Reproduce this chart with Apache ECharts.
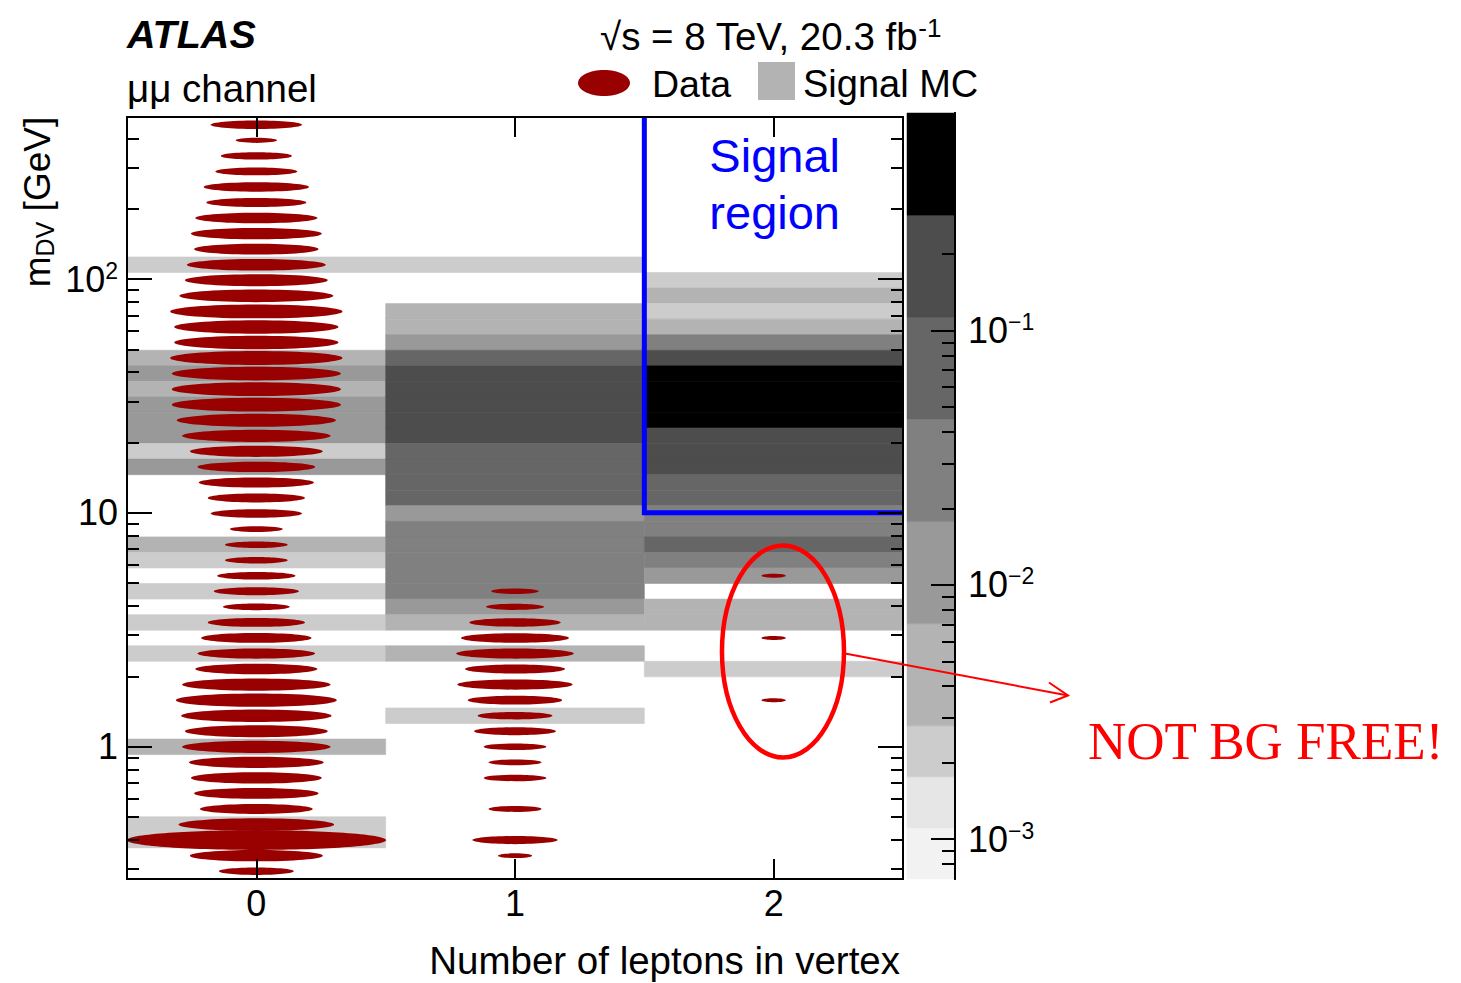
<!DOCTYPE html>
<html>
<head>
<meta charset="utf-8">
<script src="https://cdn.jsdelivr.net/npm/echarts@6/dist/echarts.min.js"></script>
<style>
html,body{margin:0;padding:0;background:#fff;}
#chart{width:1461px;height:983px;}
</style>
</head>
<body>
<div id="chart"></div>
<script>
// ---------------- DATA ----------------
// x categories: number of leptons in vertex
const leptonCategories = [0, 1, 2];
// y axis: m_DV [GeV], log scale, 49 equal log-width bins (bin 0 = highest mass)
const mMinGeV = 0.2716;
const mMaxGeV = 493.4;
const nMassBins = 49;
const yMajorTicks = [1, 10, 100];
const yMinorTicks = [0.3,0.4,0.5,0.6,0.7,0.8,0.9,2,3,4,5,6,7,8,9,20,30,40,50,60,70,80,90,200,300,400];
// colour scale (signal MC), log scale
const zMajorTicks = [0.001, 0.01, 0.1];
const zMinorTicks = [0.0008,0.0009,0.002,0.003,0.004,0.005,0.006,0.007,0.008,0.009,0.02,0.03,0.04,0.05,0.06,0.07,0.08,0.09,0.2,0.3,0.4,0.5,0.6,0.7];
const contourLevels = [0.000697, 0.001107, 0.001758, 0.00279, 0.00703, 0.01774, 0.0448, 0.1127, 0.2844, 0.718];
const contourColors = ['#f2f2f2','#e6e6e6','#cccccc','#b3b3b3','#999999','#808080','#666666','#4d4d4d','#000000'];

// Data counts per mass bin (dense, bin 0 = top)
const dataCounts0 = [15,3,9,12,20,18,27,31,28,35,37,43,54,49,49,54,52,52,52,46,40,32,25,24,17,15,5,7,7,11,13,8,17,22,25,27,40,47,41,37,40,33,31,28,23,44,123,32,10];
const dataCounts1 = [0,0,0,0,0,0,0,0,0,0,0,0,0,0,0,0,0,0,0,0,0,0,0,0,0,0,0,0,0,0,4,6,15,21,25,18,24,16,10,12,7,5,7,0,5,0,13,2,0];
const dataCounts2 = [0,0,0,0,0,0,0,0,0,0,0,0,0,0,0,0,0,0,0,0,0,0,0,0,0,0,0,0,0,1,0,0,0,1,0,0,0,1,0,0,0,0,0,0,0,0,0,0,0];

// Signal MC fraction per [mass bin, value] (sparse)
const signalMC0 = [[9,0.0022],[15,0.0045],[16,0.011],[17,0.0048],[18,0.012],[19,0.011],[20,0.0105],[21,0.0021],[22,0.0095],[27,0.0042],[28,0.0020],[30,0.0023],[32,0.0021],[34,0.0022],[40,0.0040],[45,0.0021],[46,0.0023]];
const signalMC1 = [[9,0.0022],[12,0.0050],[13,0.0046],[14,0.012],[15,0.068],[16,0.15],[17,0.19],[18,0.20],[19,0.17],[20,0.14],[21,0.075],[22,0.07],[23,0.065],[24,0.06],[25,0.013],[26,0.030],[27,0.032],[28,0.028],[29,0.026],[30,0.022],[31,0.011],[32,0.0045],[34,0.0040],[38,0.0021]];
const signalMC2 = [[10,0.0022],[11,0.0042],[12,0.0021],[13,0.0045],[14,0.030],[15,0.16],[16,0.45],[17,0.52],[18,0.48],[19,0.40],[20,0.20],[21,0.17],[22,0.15],[23,0.08],[24,0.07],[25,0.035],[26,0.030],[27,0.060],[28,0.028],[29,0.012],[31,0.0050],[32,0.0044],[35,0.0022]];

// Signal region: nLeptons >= 2 and m_DV > 10 GeV
const signalRegionMinLeptons = 1.5;
const signalRegionMinMassGeV = 10;
const signalRegionLabelAt = [2.0, 256];
// Annotation target (circled data entries)
const annotationTarget = [2.036, 2.553];

// ---------------- CHART ----------------
const FONT = '"Liberation Sans", Arial, Helvetica, sans-serif';
const lg = v => Math.log10(v);
const LOG_MIN = lg(mMinGeV), LOG_MAX = lg(mMaxGeV);
const dLog = (LOG_MAX - LOG_MIN) / nMassBins;
const binHi = i => LOG_MAX - i * dLog;
const binLo = i => LOG_MAX - (i + 1) * dLog;
const binMid = i => LOG_MAX - (i + 0.5) * dLog;

function levelColor(v) {
  for (let i = 0; i < contourColors.length; i++) {
    if (v < contourLevels[i + 1]) return contourColors[i];
  }
  return contourColors[contourColors.length - 1];
}

const mcItems = [];
[signalMC0, signalMC1, signalMC2].forEach((col, c) => col.forEach(([b, v]) => mcItems.push([leptonCategories[c], binMid(b), v, b])));
const dataItems = [];
[dataCounts0, dataCounts1, dataCounts2].forEach((col, c) => col.forEach((n, b) => { if (n > 0) dataItems.push([leptonCategories[c], binMid(b), n, b]); }));
const maxCount = Math.max(...dataItems.map(d => d[2]));

const BLACK = '#000';
const tickStyle = { color: BLACK, width: 2 };
const axisLineStyle = { show: true, onZero: false, lineStyle: { color: BLACK, width: 2 } };

const richMain = {
  b: { fontSize: 36, lineHeight: 40, fontFamily: FONT, color: BLACK },
  s: { fontSize: 23, lineHeight: 23, fontFamily: FONT, color: BLACK, verticalAlign: 'top' }
};
function fmtMain(v) {
  const e = Math.round(v);
  if (e === 0) return '{b|1}';
  if (e === 1) return '{b|10}';
  return '{b|10}{s|' + e + '}';
}
function fmtZ(v) {
  const e = Math.round(v);
  return '{b|10}{s|\u2212' + (-e) + '}';
}

const yBase = { type: 'value', gridIndex: 0, min: LOG_MIN, max: LOG_MAX, z: 10, splitLine: { show: false }, axisLine: axisLineStyle };
const zBase = { type: 'value', gridIndex: 1, min: lg(contourLevels[0]), max: lg(contourLevels[contourLevels.length - 1]), z: 10, splitLine: { show: false }, position: 'right', axisLine: axisLineStyle };
const xBase = { type: 'value', gridIndex: 0, min: -0.5, max: 2.5, z: 10, splitLine: { show: false }, axisLine: axisLineStyle,
  axisTick: { show: true, inside: true, length: 20, customValues: leptonCategories, lineStyle: tickStyle } };

const option = {
  animation: false,
  backgroundColor: '#fff',
  grid: [
    { left: 127, top: 117, width: 776, height: 762, show: false, outerBoundsMode: 'none' },
    { left: 907, top: 113, width: 48, height: 766, show: false, outerBoundsMode: 'none' }
  ],
  xAxis: [
    Object.assign({}, xBase, { position: 'bottom', axisLabel: { show: true, customValues: leptonCategories, fontSize: 36, margin: 6, color: BLACK, fontFamily: FONT } }),
    Object.assign({}, xBase, { position: 'top', axisLabel: { show: false } }),
    { type: 'value', gridIndex: 1, min: 0, max: 1, show: false }
  ],
  yAxis: [
    Object.assign({}, yBase, { position: 'left',
      axisTick: { show: true, inside: true, length: 25, customValues: yMajorTicks.map(lg), lineStyle: tickStyle },
      axisLabel: { show: true, customValues: yMajorTicks.map(lg), margin: 9, formatter: fmtMain, rich: richMain } }),
    Object.assign({}, yBase, { position: 'left',
      axisTick: { show: true, inside: true, length: 12, customValues: yMinorTicks.map(lg), lineStyle: tickStyle },
      axisLabel: { show: false } }),
    Object.assign({}, yBase, { position: 'right',
      axisTick: { show: true, inside: true, length: 25, customValues: yMajorTicks.map(lg), lineStyle: tickStyle },
      axisLabel: { show: false } }),
    Object.assign({}, yBase, { position: 'right',
      axisTick: { show: true, inside: true, length: 12, customValues: yMinorTicks.map(lg), lineStyle: tickStyle },
      axisLabel: { show: false } }),
    Object.assign({}, zBase, {
      axisTick: { show: true, inside: true, length: 24, customValues: zMajorTicks.map(lg), lineStyle: tickStyle },
      axisLabel: { show: true, customValues: zMajorTicks.map(lg), margin: 13, formatter: fmtZ, rich: richMain } }),
    Object.assign({}, zBase, {
      axisTick: { show: true, inside: true, length: 13, customValues: zMinorTicks.map(lg), lineStyle: tickStyle },
      axisLabel: { show: false } })
  ],
  series: [
    { // colour bar
      type: 'custom', name: 'colorbar', xAxisIndex: 2, yAxisIndex: 4, silent: true, z: 2,
      data: contourColors.map((c, i) => [0.5, (lg(contourLevels[i]) + lg(contourLevels[i + 1])) / 2, i]),
      renderItem: function (params, api) {
        const i = api.value(2);
        const p0 = api.coord([0, lg(contourLevels[i + 1])]);
        const p1 = api.coord([1, lg(contourLevels[i])]);
        return { type: 'rect', shape: { x: p0[0], y: p0[1], width: p1[0] - p0[0], height: p1[1] - p0[1] },
          style: { fill: contourColors[i], stroke: contourColors[i], lineWidth: 0.5 } };
      }
    },
    { // signal MC
      type: 'custom', name: 'Signal MC', xAxisIndex: 0, yAxisIndex: 0, silent: true, z: 2,
      data: mcItems,
      renderItem: function (params, api) {
        const c = api.value(0), b = api.value(3), v = api.value(2);
        const p0 = api.coord([c - 0.5, binHi(b)]);
        const p1 = api.coord([c + 0.5, binLo(b)]);
        const col = levelColor(v);
        return { type: 'rect', shape: { x: p0[0], y: p0[1], width: p1[0] - p0[0], height: p1[1] - p0[1] },
          style: { fill: col, stroke: col, lineWidth: 0.6 } };
      }
    },
    { // data
      type: 'custom', name: 'Data', xAxisIndex: 0, yAxisIndex: 0, silent: true, z: 3,
      data: dataItems,
      renderItem: function (params, api) {
        const c = api.value(0), m = api.value(1), n = api.value(2), b = api.value(3);
        const pc = api.coord([c, m]);
        const pl = api.coord([c - 0.5, m]), pr = api.coord([c + 0.5, m]);
        const pt = api.coord([c, binHi(b)]), pb = api.coord([c, binLo(b)]);
        const f = Math.sqrt(n / maxCount);
        return { type: 'ellipse', shape: { cx: pc[0], cy: pc[1], rx: f * (pr[0] - pl[0]) / 2 + 0.5, ry: f * (pb[1] - pt[1]) * 0.56 + 1.2 },
          style: { fill: '#990000' } };
      }
    },
    { // signal region
      type: 'custom', name: 'Signal region', xAxisIndex: 0, yAxisIndex: 0, silent: true, z: 4,
      data: [[signalRegionMinLeptons, lg(signalRegionMinMassGeV)]],
      renderItem: function (params, api) {
        const a = api.coord([signalRegionMinLeptons, LOG_MAX]);
        const b = api.coord([signalRegionMinLeptons, lg(signalRegionMinMassGeV)]);
        const c = api.coord([2.5, lg(signalRegionMinMassGeV)]);
        const t = api.coord([signalRegionLabelAt[0], lg(signalRegionLabelAt[1])]);
        return { type: 'group', children: [
          { type: 'polyline', shape: { points: [a, b, c] }, style: { fill: 'none', stroke: '#0000ff', lineWidth: 5 } },
          { type: 'text', x: t[0] + 1, y: t[1], style: { text: 'Signal\nregion', fill: '#0000ff', font: '47px ' + FONT, lineHeight: 57,
            textAlign: 'center', textVerticalAlign: 'middle', align: 'center', verticalAlign: 'middle' } }
        ] };
      }
    },
    { // annotation
      type: 'custom', name: 'annotation', xAxisIndex: 0, yAxisIndex: 0, silent: true, z: 20,
      data: [[annotationTarget[0], lg(annotationTarget[1])]],
      renderItem: function (params, api) {
        const p = api.coord([api.value(0), api.value(1)]);
        const cx = p[0], cy = p[1];
        return { type: 'group', children: [
          { type: 'ellipse', shape: { cx: cx, cy: cy, rx: 61, ry: 106 }, style: { fill: 'none', stroke: '#ff0000', lineWidth: 4.5 } },
          { type: 'line', shape: { x1: cx + 62, y1: cy + 2, x2: cx + 285, y2: cy + 44 }, style: { stroke: '#ff0000', lineWidth: 2 } },
          { type: 'polyline', shape: { points: [[cx + 266, cy + 31], [cx + 285, cy + 44], [cx + 267, cy + 51]] }, style: { fill: 'none', stroke: '#ff0000', lineWidth: 2 } },
          { type: 'text', x: cx + 305, y: cy + 90, style: { text: 'NOT BG FREE!', fill: '#ff0000', font: '53px "Liberation Serif", "Times New Roman", serif',
            textAlign: 'left', textVerticalAlign: 'middle', align: 'left', verticalAlign: 'middle' } }
        ] };
      }
    }
  ],
  graphic: [
    { type: 'text', x: 127, y: 34, style: { text: 'ATLAS', fill: BLACK, font: 'italic bold 39.5px ' + FONT, textAlign: 'left', textVerticalAlign: 'middle', align: 'left', verticalAlign: 'middle' } },
    { type: 'text', x: 127, y: 88, style: { text: '\u03bc\u03bc channel', fill: BLACK, font: '38.5px ' + FONT, textAlign: 'left', textVerticalAlign: 'middle', align: 'left', verticalAlign: 'middle' } },
    { type: 'text', x: 600, y: 36, style: { text: '{n|\u221as = 8 TeV, 20.3 fb}{s|-1}', textAlign: 'left', textVerticalAlign: 'middle', align: 'left', verticalAlign: 'middle',
      rich: { n: { fontSize: 38.5, lineHeight: 42, fontFamily: FONT, fill: BLACK, color: BLACK }, s: { fontSize: 26, lineHeight: 26, fontFamily: FONT, fill: BLACK, color: BLACK, verticalAlign: 'top' } } } },
    { type: 'ellipse', shape: { cx: 604, cy: 83, rx: 26, ry: 13 }, style: { fill: '#990000' } },
    { type: 'text', x: 652, y: 84, style: { text: 'Data', fill: BLACK, font: '37.5px ' + FONT, textAlign: 'left', textVerticalAlign: 'middle', align: 'left', verticalAlign: 'middle' } },
    { type: 'rect', shape: { x: 758, y: 62, width: 37, height: 38 }, style: { fill: '#b3b3b3' } },
    { type: 'text', x: 803, y: 84, style: { text: 'Signal MC', fill: BLACK, font: '38px ' + FONT, textAlign: 'left', textVerticalAlign: 'middle', align: 'left', verticalAlign: 'middle' } },
    { type: 'text', x: 900, y: 960, style: { text: 'Number of leptons in vertex', fill: BLACK, font: '38.5px ' + FONT, textAlign: 'right', textVerticalAlign: 'middle', align: 'right', verticalAlign: 'middle' } },
    { type: 'text', x: 37, y: 202, rotation: Math.PI / 2, style: { text: '{n|m}{d|DV}{n| [GeV]}', textAlign: 'center', textVerticalAlign: 'middle', align: 'center', verticalAlign: 'middle',
      rich: { n: { fontSize: 37, lineHeight: 40, fontFamily: FONT, fill: BLACK, color: BLACK }, d: { fontSize: 25, lineHeight: 26, fontFamily: FONT, fill: BLACK, color: BLACK, verticalAlign: 'bottom' } } } }
  ]
};

const chart = echarts.init(document.getElementById('chart'), null, { renderer: 'svg', width: 1461, height: 983 });
chart.setOption(option);
</script>
</body>
</html>
